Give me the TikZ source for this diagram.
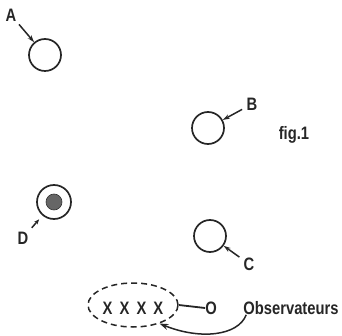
\documentclass[tikz,border=0pt]{standalone}
\usepackage{fontspec}
\setmainfont{Liberation Sans}
\newfontfamily\labfont{Liberation Sans}[FakeStretch=0.82]
\usetikzlibrary{arrows.meta,shapes.geometric}
\begin{document}
\begin{tikzpicture}[x=1pt,y=-1pt,
  ring/.style={circle,draw=black!85,line width=1.7pt,minimum size=32pt,inner sep=0pt},
  lbl/.style={font=\labfont\bfseries\fontsize{18}{18}\selectfont,inner sep=0pt,text=black!85},
  ptr/.style={draw=black!85,line width=1.5pt,-{Stealth[length=7pt,width=4.5pt]}},
  obsgroup/.style={ellipse,draw=black!85,line width=1.5pt,dash pattern=on 6pt off 4pt,minimum width=90pt,minimum height=44pt,inner sep=0pt}]
\useasboundingbox (0,0) rectangle (342,336);
% A
\node[ring] (cA) at (45,55) {};
\node[lbl] (lA) at (11,15) {A};
\draw[ptr,shorten <=4pt] (lA) -- (cA);
% B
\node[ring] (cB) at (208,128) {};
\node[lbl] (lB) at (252,104) {B};
\draw[ptr,shorten <=5pt] (lB) -- (cB);
\node[lbl] (fig) at (294,135) {fig.1};
% D
\node[ring,minimum size=34pt] (cD) at (54,202) {};
\node[circle,fill=black!60,draw=black!80,line width=0.6pt,minimum size=16pt,inner sep=0pt] (dD) at (54,202) {};
\node[lbl] (lD) at (23,238) {D};
\draw[ptr,shorten <=5pt,shorten >=5pt,-{Stealth[length=5pt,width=4pt]}] (lD) -- (cD);
% C
\node[ring] (cC) at (210,236) {};
\node[lbl] (lC) at (249,264) {C};
\draw[ptr,shorten <=5pt] (lC) -- (cC);
% observers
\node[obsgroup] (E) at (133,305) {};
\node[lbl] (xs) at (133,308) {X \hspace{3pt}X \hspace{3pt}X \hspace{3pt}X};
\node[lbl] (O) at (211,308) {O};
\node[lbl] (obs) at (291,308) {Observateurs};
\draw[draw=black!85,line width=1.8pt] (E.east) -- (O.west);
\draw[ptr,-{Stealth[length=9pt,width=6pt]}] ([xshift=3pt,yshift=0pt]obs.south west) .. controls (238,336) and (200,340) .. (E.-35);
\end{tikzpicture}
\end{document}
